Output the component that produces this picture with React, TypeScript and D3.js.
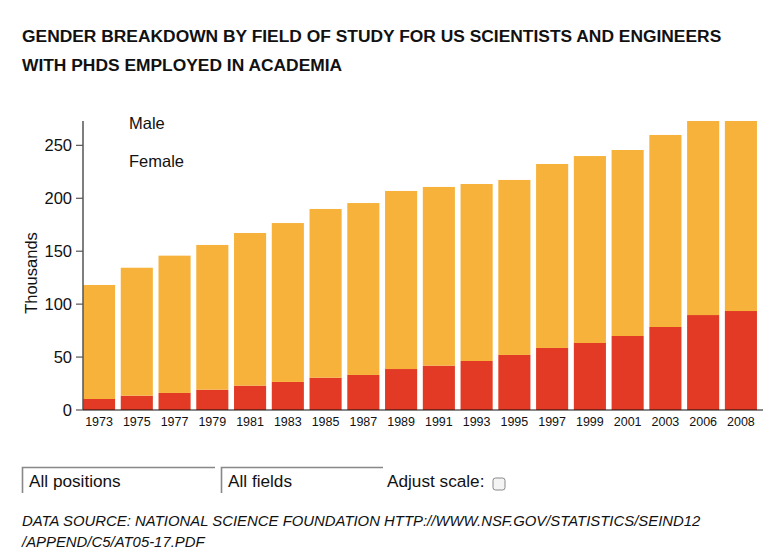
import React from "react";
import * as d3 from "d3";

const years = ["1973","1975","1977","1979","1981","1983","1985","1987","1989","1991","1993","1995","1997","1999","2001","2003","2006","2008"];
const female = [10.4,13.5,16.1,19.2,23.0,26.5,30.5,33.1,38.7,41.9,46.3,52.0,58.6,63.3,69.9,78.4,89.7,93.5];
const total = [118.1,134.4,145.8,155.9,167.2,176.6,189.9,195.5,206.9,210.7,213.5,217.3,232.4,239.9,245.6,259.8,273,273];
const male = total.map((t, i) => +(t - female[i]).toFixed(1));
const yTicks = [0, 50, 100, 150, 200, 250];
const titleLines = [
  "GENDER BREAKDOWN BY FIELD OF STUDY FOR US SCIENTISTS AND ENGINEERS",
  "WITH PHDS EMPLOYED IN ACADEMIA",
];
const sourceLines = [
  "DATA SOURCE: NATIONAL SCIENCE FOUNDATION HTTP://WWW.NSF.GOV/STATISTICS/SEIND12",
  "/APPEND/C5/AT05-17.PDF",
];
const legendLabels = ["Male", "Female"];
const selectLabels = ["All positions", "All fields"];

const ORANGE = "#F6B23A";
const RED = "#E23A24";
const FONT = "'Liberation Sans', Arial, Helvetica, sans-serif";

export default function App() {
  const W = 771, H = 557;
  const left = 83, right = 763, top = 121, bottom = 410;
  const x = d3.scaleBand<string>().domain(years).range([left, right]).paddingInner(0.15).paddingOuter(0.08).align(0);
  const y = d3.scaleLinear().domain([0, 273]).range([bottom, top]);
  const data = years.map((yr, i) => ({ yr, female: female[i], male: male[i] }));
  const stack = d3.stack<any>().keys(["female", "male"])(data);
  const colors = [RED, ORANGE];

  return (
    <div style={{ position: "absolute", left: 0, top: 0 }}>
      <svg width={W} height={H} style={{ display: "block", fontFamily: FONT }}>
        <rect width={W} height={H} fill="#fff" />
        {titleLines.map((t, i) => (
          <text key={i} x={22} y={41.5 + i * 29.5} fontSize={17.4} fontWeight="bold" fill="#111">{t}</text>
        ))}
        {stack.map((s, si) => (
          <g key={si} fill={colors[si]}>
            {s.map((d, i) => (
              <rect key={i} x={x(years[i])} width={x.bandwidth()} y={y(d[1])} height={y(d[0]) - y(d[1])} />
            ))}
          </g>
        ))}
        {/* y axis */}
        <line x1={left} x2={left} y1={top} y2={bottom} stroke="#555" strokeWidth={1.5} />
        {yTicks.map((t) => (
          <g key={t}>
            <line x1={left - 7} x2={left} y1={y(t)} y2={y(t)} stroke="#555" strokeWidth={1.2} />
            <text x={left - 11} y={y(t)} dy="0.36em" textAnchor="end" fontSize={16.5} fill="#111">{t}</text>
          </g>
        ))}
        <text transform={`translate(37,273) rotate(-90)`} textAnchor="middle" fontSize={16.5} fill="#111">Thousands</text>
        {/* x axis */}
        <line x1={left} x2={right} y1={bottom} y2={bottom} stroke="#111" strokeWidth={1.2} />
        {years.map((yr) => (
          <text key={yr} x={(x(yr) as number) + x.bandwidth() / 2} y={426} textAnchor="middle" fontSize={12.5} fill="#111">{yr}</text>
        ))}
        {legendLabels.map((l, i) => (
          <text key={l} x={129} y={129 + i * 38} fontSize={16.5} fill="#111">{l}</text>
        ))}
        {/* controls */}
        {[[22, 215], [221, 383]].map(([a, b], i) => (
          <g key={i}>
            <path d={`M${a + 0.5},493 V467.5 H${b}`} fill="none" stroke="#888" strokeWidth={1.6} />
            <text x={a + 7} y={487} fontSize={17.2} fill="#111">{selectLabels[i]}</text>
          </g>
        ))}
        <text x={387} y={487} fontSize={17.2} fill="#111">Adjust scale:</text>
        <rect x={493} y={478} width={12} height={12} rx={2.5} fill="#f4f4f4" stroke="#888" strokeWidth={1} />
        {sourceLines.map((t, i) => (
          <text key={i} x={22} y={526 + i * 20.5} fontSize={14.9} fontStyle="italic" fill="#111">{t}</text>
        ))}
      </svg>
    </div>
  );
}
